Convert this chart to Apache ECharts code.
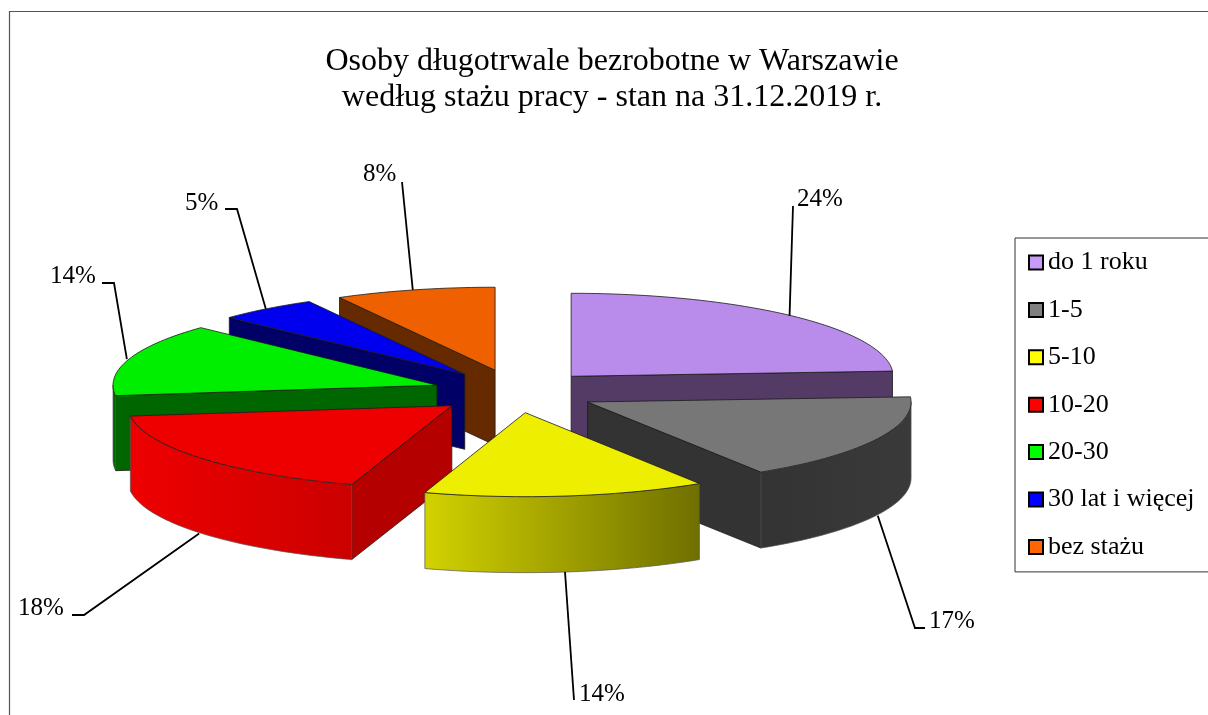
<!DOCTYPE html>
<html>
<head>
<meta charset="utf-8">
<style>html,body{margin:0;padding:0;background:#fff;overflow:hidden}#c{width:1208px;height:715px}</style>
<script src="https://cdn.jsdelivr.net/npm/echarts@6/dist/echarts.min.js"></script>
</head>
<body>
<div id="c"></div>
<script>
// --- data ---
const categories = ['do 1 roku', '1-5', '5-10', '10-20', '20-30', '30 lat i więcej', 'bez stażu'];
const values = [24, 17, 14, 18, 14, 5, 8];
const titleText = 'Osoby długotrwale bezrobotne w Warszawie\nwedług stażu pracy - stan na 31.12.2019 r.';

// --- style and layout ---
const legendColors = ['#c79bf7', '#808080', '#ffff00', '#ff0000', '#00ff00', '#0000ff', '#ff6600'];
const topColors    = ['#b98cec', '#777777', '#eeee00', '#ee0000', '#00ee00', '#0000ee', '#ee6000'];
const sideColors   = ['#533b66', '#333333', '#6f6f00', '#b50000', '#006600', '#000066', '#662a00'];
const outerFrom    = ['#533b66', '#333333', '#d2d200', '#ee0000', '#006600', '#000066', '#662a00'];
const outerTo      = ['#533b66', '#3a3a3a', '#6f6f00', '#cc0000', '#006600', '#000066', '#662a00'];
const drawOrder = [0, 6, 5, 4, 3, 1, 2];
const elbows = [[[793, 206]], [[915, 628], [925, 628]], [[574, 700]], [[84, 615], [72, 615]],
                [[114, 283], [102, 283]], [[237, 209], [225, 209]], [[402, 182]]];
const labelAnchors = [[797, 199], [929, 621], [579, 694], [18, 608], [50, 276], [185, 203], [363, 174]];
const FONT = '"Liberation Serif","Times New Roman",serif';
const geo = { cx: 515, cy: 391.7, rx: 322, ry: 83, explode: 82, depth: 75 };
// small per-slice corrections for the reference's perspective
const tweak = [
  { dx: 0, dy: 0, rx: 322, ry: 83, depth: 75, lead: -2 },
  { dx: -0.5, dy: 0.7, rx: 323.5, ry: 83, depth: 76, lead: 2 },
  { dx: 0, dy: 0, rx: 325, ry: 84, depth: 76, lead: -1 },
  { dx: 0, dy: 0.5, rx: 324, ry: 83, depth: 75, lead: -3 },
  { dx: 0, dy: 0, rx: 324, ry: 84, depth: 75, lead: -2 },
  { dx: 0, dy: -0.7, rx: 323, ry: 83, depth: 75, lead: -1 },
  { dx: 0.5, dy: -1, rx: 323, ry: 83, depth: 75, lead: -2 }
];

const total = values.reduce((a, b) => a + b, 0);
const rad = d => d * Math.PI / 180;
function sliceAngles(i) {
  const before = values.slice(0, i).reduce((a, b) => a + b, 0);
  return [before / total * 360, (before + values[i]) / total * 360];
}
function apexOf(mid, t) {
  const k = geo.ry / geo.rx;
  return [geo.cx + geo.explode * Math.sin(rad(mid)) + t.dx,
          geo.cy - geo.explode * k * Math.cos(rad(mid)) + t.dy];
}
const edge = { stroke: '#1a1a1a', lineWidth: 0.8 };
const softEdge = { stroke: '#555', lineWidth: 0.7 };

function renderSlice(idx, params, api) {
  const v = api.value(0);
  const t = tweak[idx];
  const [a0, a1] = sliceAngles(idx);
  const mid = (a0 + a1) / 2;
  const apex = apexOf(mid, t);
  const d = t.depth;
  const rim = (a, dy) => [apex[0] + t.rx * Math.sin(rad(a)), apex[1] - t.ry * Math.cos(rad(a)) + (dy || 0)];
  const arc = (p, q, dy) => {
    const n = Math.max(2, Math.ceil(Math.abs(q - p) / 1.5));
    const pts = [];
    for (let j = 0; j <= n; j++) pts.push(rim(p + (q - p) * j / n, dy));
    return pts;
  };
  const children = [];
  const poly = (points, fill, line) => children.push({
    type: 'polygon', shape: { points }, style: Object.assign({ fill }, line || edge)
  });
  // radial walls, only those that face the viewer
  const wall = (a) => {
    const p = rim(a);
    poly([apex, p, [p[0], p[1] + d], [apex[0], apex[1] + d]], sideColors[idx]);
  };
  if (Math.cos(rad(a0 - 90)) < 0) wall(a0);
  if (Math.cos(rad(a1 + 90)) < 0) wall(a1);
  // outer curved wall, front half of the ellipse
  const o0 = Math.max(a0, 90), o1 = Math.min(a1, 270);
  if (o1 > o0) {
    poly(arc(o0, o1, 0).concat(arc(o1, o0, d)), {
      type: 'linear', x: 0, y: 0, x2: 1, y2: 0,
      colorStops: [{ offset: 0, color: outerFrom[idx] }, { offset: 1, color: outerTo[idx] }]
    }, softEdge);
  }
  // top face
  poly([apex].concat(arc(a0, a1, 0)), topColors[idx]);
  // leader and label
  const front = mid > 90 && mid < 270;
  const s = rim(mid, front ? d : 0);
  children.push({
    type: 'polyline', shape: { points: [[s[0] + t.lead, s[1]]].concat(elbows[idx]) },
    style: { stroke: '#000', lineWidth: 1.8, fill: null }, z2: 10
  });
  children.push({
    type: 'text', z2: 11,
    style: { text: Math.round(v / total * 100) + '%', x: labelAnchors[idx][0], y: labelAnchors[idx][1],
      font: '25px ' + FONT, fill: '#000', align: 'left', verticalAlign: 'middle' }
  });
  return { type: 'group', children };
}

const series = drawOrder.map(i => ({
  type: 'custom', name: categories[i], coordinateSystem: 'none', silent: true,
  animation: false, clip: false,
  itemStyle: { color: legendColors[i] },
  data: [[values[i]]],
  renderItem: (p, api) => renderSlice(i, p, api)
}));

const chart = echarts.init(document.getElementById('c'), null, { renderer: 'canvas' });
chart.setOption({
  animation: false,
  backgroundColor: '#fff',
  title: {
    text: titleText, left: 607, top: 39, textAlign: 'center',
    textStyle: { fontFamily: FONT, fontSize: 32, fontWeight: 'normal', color: '#000', lineHeight: 36 }
  },
  legend: {
    data: categories, orient: 'vertical', left: 1015, top: 238, icon: 'rect', selectedMode: false,
    itemWidth: 14, itemHeight: 14, itemGap: 21.4,
    padding: [11.5, 60, 12, 13], borderColor: '#333', borderWidth: 1,
    itemStyle: { borderColor: '#000', borderWidth: 2 },
    textStyle: { fontFamily: FONT, fontSize: 26, color: '#000', lineHeight: 26 }
  },
  graphic: [{
    type: 'rect', z: -1, silent: true, shape: { x: 9.5, y: 11.5, width: 1400, height: 900 },
    style: { fill: 'none', stroke: '#555', lineWidth: 1.2 }
  }],
  series
});
</script>
</body>
</html>
